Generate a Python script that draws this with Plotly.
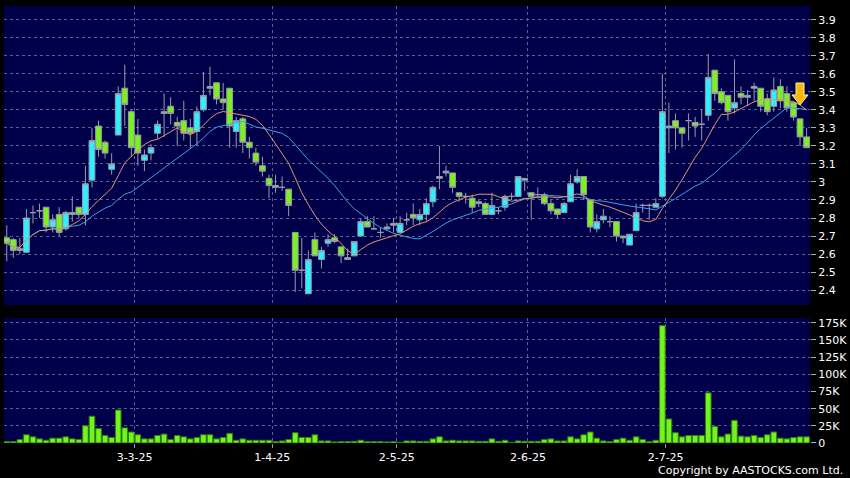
import numpy as np
import pandas as pd
import plotly.graph_objects as go

# ---------------- data ----------------
holidays = ["2025-04-04", "2025-04-18", "2025-04-21", "2025-05-01", "2025-05-05", "2025-07-01"]

open_ = [2.69,2.68,2.62,2.61,2.83,2.84,2.86,2.75,2.82,2.74,
         2.82,2.86,2.82,3.01,3.31,3.22,3.07,3.26,3.52,3.39,
         3.26,3.12,3.16,3.27,3.39,3.42,3.33,3.34,3.30,3.28,
         3.40,3.52,3.55,3.46,3.52,3.28,3.35,3.22,3.16,3.09,
         3.02,2.97,2.97,2.96,2.72,2.51,2.38,2.68,2.57,2.66,
         2.69,2.64,2.57,2.59,2.70,2.78,2.74,2.72,2.74,2.76,
         2.72,2.79,2.82,2.79,2.82,2.89,3.02,3.05,3.05,2.94,
         2.92,2.91,2.88,2.88,2.82,2.84,2.86,2.92,2.92,3.01,
         2.94,2.93,2.93,2.88,2.85,2.83,2.89,3.00,3.03,2.90,
         2.74,2.79,2.78,2.78,2.70,2.65,2.73,2.87,2.87,2.86,
         2.92,3.30,3.34,3.30,3.34,3.33,3.32,3.37,3.62,3.50,
         3.48,3.41,3.49,3.47,3.52,3.52,3.46,3.42,3.53,3.49,
         3.44,3.35,3.25]

high = [2.76,2.69,2.69,2.85,2.87,2.88,2.86,2.82,2.86,2.84,
        2.92,2.86,3.09,3.30,3.34,3.23,3.16,3.53,3.65,3.40,
        3.35,3.18,3.21,3.34,3.49,3.47,3.36,3.45,3.35,3.42,
        3.61,3.64,3.55,3.55,3.52,3.36,3.36,3.25,3.19,3.14,
        3.04,3.04,3.03,2.96,2.72,2.69,2.62,2.72,2.64,2.71,
        2.71,2.64,2.63,2.67,2.80,2.81,2.81,2.75,2.77,2.80,
        2.81,2.83,2.88,2.85,2.91,2.98,3.20,3.09,3.05,2.94,
        2.94,2.93,2.90,2.89,2.94,2.86,2.93,2.94,3.03,3.02,
        2.94,2.97,2.94,2.90,2.85,2.89,3.04,3.07,3.03,2.90,
        2.82,2.85,2.81,2.78,2.70,2.71,2.88,2.88,2.88,2.91,
        3.60,3.44,3.38,3.30,3.38,3.36,3.40,3.71,3.62,3.52,
        3.48,3.68,3.53,3.51,3.55,3.52,3.49,3.58,3.57,3.53,
        3.44,3.35,3.30]

low = [2.56,2.58,2.60,2.61,2.77,2.80,2.72,2.72,2.70,2.73,
       2.78,2.80,2.76,2.97,3.14,3.13,3.04,3.26,3.31,3.14,
       3.09,3.06,3.12,3.24,3.25,3.32,3.20,3.23,3.19,3.20,
       3.39,3.48,3.43,3.40,3.19,3.19,3.16,3.13,3.09,3.03,
       2.91,2.94,2.95,2.81,2.39,2.41,2.38,2.59,2.52,2.64,
       2.66,2.55,2.57,2.59,2.70,2.75,2.74,2.69,2.73,2.72,
       2.72,2.76,2.76,2.76,2.78,2.86,2.96,3.03,2.94,2.89,
       2.88,2.83,2.86,2.82,2.82,2.82,2.84,2.90,2.92,2.95,
       2.79,2.91,2.87,2.82,2.80,2.83,2.89,2.99,2.90,2.72,
       2.72,2.77,2.75,2.67,2.66,2.65,2.73,2.83,2.79,2.86,
       2.91,3.16,3.18,3.19,3.23,3.25,3.23,3.34,3.45,3.43,
       3.34,3.38,3.43,3.42,3.45,3.39,3.37,3.39,3.41,3.39,
       3.34,3.20,3.19]

close = [2.66,2.62,2.63,2.80,2.83,2.84,2.75,2.79,2.72,2.83,
         2.83,2.82,2.99,3.23,3.18,3.16,3.10,3.49,3.43,3.19,
         3.16,3.15,3.19,3.32,3.38,3.38,3.31,3.27,3.27,3.39,
         3.48,3.53,3.46,3.44,3.31,3.34,3.22,3.19,3.11,3.06,
         2.98,2.98,2.97,2.87,2.51,2.51,2.57,2.59,2.62,2.68,
         2.67,2.59,2.58,2.67,2.78,2.75,2.74,2.72,2.75,2.77,
         2.77,2.79,2.80,2.82,2.88,2.97,3.03,3.06,2.97,2.92,
         2.92,2.86,2.89,2.82,2.87,2.84,2.92,2.92,3.03,3.02,
         2.92,2.93,2.88,2.84,2.82,2.88,2.99,3.03,2.93,2.75,
         2.78,2.81,2.78,2.70,2.69,2.71,2.83,2.87,2.87,2.88,
         3.39,3.31,3.30,3.27,3.34,3.31,3.32,3.58,3.49,3.44,
         3.39,3.44,3.47,3.48,3.53,3.42,3.39,3.51,3.45,3.41,
         3.36,3.25,3.19]

volume_k = [2,2,5,12,9,6,4,7,7,9,
            6,5,25,39,21,11,8,48,22,16,
            12,6,6,11,13,5,11,9,6,8,
            12,12,6,8,14,4,6,4,4,4,
            4,2,3,5,15,8,8,12,3,3,
            1.5,2,2,2.5,4,2,2,2,1.5,2,
            1,3,3,2.5,2.5,6,9,3,4,3,
            3,3,2.5,2.5,6,2.5,4,1,3,2.5,
            2.5,2.5,5,6,3,3,9,6,12,16,
            7,3,2,5,7,4,9,5,2,4,
            171,35,15,9,11,11,11,73,24,9,
            13,33,10,9,11,8,12,16,7,6,
            8,9,9]

price_ticks = [2.4,2.5,2.6,2.7,2.8,2.9,3.0,3.1,3.2,3.3,3.4,3.5,3.6,3.7,3.8,3.9]
price_tick_text = ["2.4","2.5","2.6","2.7","2.8","2.9","3","3.1","3.2","3.3","3.4","3.5","3.6","3.7","3.8","3.9"]
vol_ticks_k = [0,25,50,75,100,125,150,175]
vol_tick_text = ["0","25K","50K","75K","100K","125K","150K","175K"]
month_first_days = ["2025-03-03","2025-04-01","2025-05-02","2025-06-02","2025-07-02"]
month_labels = ["3-3-25","1-4-25","2-5-25","2-6-25","2-7-25"]

# ---------------- derived ----------------
dates = pd.bdate_range("2025-02-03", "2025-07-31")
dates = dates[~dates.isin(pd.to_datetime(holidays))]
n = len(close)
assert len(dates) == n
idx = np.arange(n)
date_pos = {d.strftime("%Y-%m-%d"): i for i, d in enumerate(dates)}
tickpos = [date_pos[d] - 0.5 for d in month_first_days]

cs = pd.Series(close)
ma10 = cs.rolling(10, min_periods=1).mean()
ma20 = cs.rolling(20, min_periods=1).mean()
volume = [v * 1000 for v in volume_k]

NAVY = "#00004a"
GRID = "#5f5f88"
DASH = "3px,3px"
CYAN = "#2eefff"
LIME = "#7cf021"
OUTLINE = "#9a9aa8"
FONT = dict(family="DejaVu Sans", size=11, color="#ffffff")

fig = go.Figure()
fig.add_trace(go.Candlestick(
    x=idx, open=open_, high=high, low=low, close=close,
    increasing=dict(fillcolor=CYAN, line=dict(color=OUTLINE, width=1)),
    decreasing=dict(fillcolor=LIME, line=dict(color=OUTLINE, width=1)),
    whiskerwidth=0, showlegend=False, hoverinfo="skip",
    xaxis="x", yaxis="y"))
fig.add_trace(go.Scatter(x=idx, y=ma20, mode="lines", line=dict(color="#3aa2e6", width=1),
                         showlegend=False, hoverinfo="skip", xaxis="x", yaxis="y"))
fig.add_trace(go.Scatter(x=idx, y=ma10, mode="lines", line=dict(color="#e8946a", width=1),
                         showlegend=False, hoverinfo="skip", xaxis="x", yaxis="y"))
fig.add_trace(go.Bar(x=idx, y=volume, marker=dict(color="#72f51e", line=dict(color="#2f7d0c", width=1)),
                     showlegend=False, hoverinfo="skip", xaxis="x2", yaxis="y2"))

xr = [-0.42, n - 0.48]
arrow_path = "M0,0 L-8,10 L-4,10 L-4,22 L4,22 L4,10 L8,10 Z"

fig.update_layout(
    width=850, height=478,
    margin=dict(l=4, r=40, t=6, b=35),
    paper_bgcolor="#000000", plot_bgcolor=NAVY,
    font=FONT, boxgap=0.12, boxgroupgap=0, bargap=0.14,
    xaxis=dict(domain=[0, 1], anchor="y", range=xr, tickvals=tickpos, showticklabels=False,
               ticks="", showgrid=True, gridcolor=GRID, griddash=DASH, gridwidth=1,
               zeroline=False, rangeslider=dict(visible=False), fixedrange=True),
    xaxis2=dict(domain=[0, 1], anchor="y2", range=xr, matches="x", tickvals=tickpos, ticktext=month_labels,
                ticks="outside", ticklen=4, tickcolor="#9a9a9a", showgrid=True, gridcolor=GRID,
                griddash=DASH, gridwidth=1, zeroline=False, tickfont=FONT),
    yaxis=dict(domain=[0.316, 1], anchor="x", side="right", range=[2.318, 3.976],
               tickvals=price_ticks, ticktext=price_tick_text, ticks="outside", ticklen=5,
               tickcolor="#b0b0b0", showgrid=True, gridcolor=GRID, griddash=DASH, gridwidth=1,
               zeroline=False, tickfont=FONT),
    yaxis2=dict(domain=[0, 0.286], anchor="x2", side="right", range=[0, 182000],
                tickvals=[v * 1000 for v in vol_ticks_k], ticktext=vol_tick_text, ticks="outside",
                ticklen=5, tickcolor="#b0b0b0", showgrid=True, gridcolor=GRID, griddash=DASH,
                gridwidth=1, zeroline=False, tickfont=FONT),
    annotations=[
        dict(text="Copyright by AASTOCKS.com Ltd.", xref="paper", yref="paper", x=1.0434, y=-0.064,
             xanchor="right", yanchor="middle", showarrow=False, font=FONT),
    ],
    shapes=[
        dict(type="path", xref="x", yref="y", xsizemode="pixel", ysizemode="pixel",
             xanchor=int(idx[-2]), yanchor=float(ma10.iloc[-2]), path=arrow_path,
             fillcolor="#f6b90c", line=dict(color="#fff2a0", width=1), layer="above"),
    ],
)

fig.write_html("out.html", config={"displayModeBar": False, "staticPlot": True},
               post_script="document.body.style.margin='0';document.body.style.background='#000';")
